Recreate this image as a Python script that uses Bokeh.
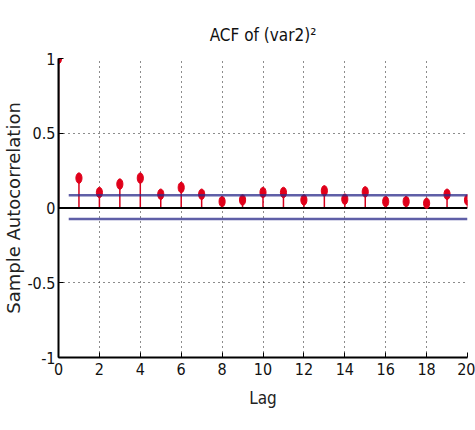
from bokeh.plotting import figure
from bokeh.models import Range1d, FixedTicker, Title
from bokeh.embed import file_html
from bokeh.resources import INLINE

# sample autocorrelation of the squared series, lags 0..20
lags = list(range(0, 21))
acf = [1.0, 0.20, 0.104, 0.16, 0.20, 0.092, 0.137, 0.092, 0.043, 0.054,
       0.104, 0.104, 0.054, 0.115, 0.059, 0.108, 0.043, 0.043, 0.032, 0.092, 0.054]
upper_bound = 0.086
lower_bound = -0.073
x_ticks = [0, 2, 4, 6, 8, 10, 12, 14, 16, 18, 20]
y_ticks = [-1, -0.5, 0, 0.5, 1]

narrow = '"Liberation Sans Narrow", "DejaVu Sans Condensed", "Roboto Condensed", "Liberation Sans", sans-serif'

p = figure(width=475, height=430, output_backend="svg", toolbar_location=None,
           x_range=Range1d(0, 20), y_range=Range1d(-1, 1),
           min_border_left=55, min_border_right=8, min_border_top=58, min_border_bottom=73,
           x_axis_label="Lag", y_axis_label="Sample Autocorrelation")
p.title = None
p.add_layout(Title(text="ACF of (var2)²", align="center", text_font=narrow,
                   text_font_size="17px", text_font_style="normal",
                   text_color="#111111", standoff=28), "above")
p.outline_line_color = None
p.background_fill_color = "white"
p.border_fill_color = "white"

for ax in (p.xaxis[0], p.yaxis[0]):
    ax.axis_line_color = "black"
    ax.axis_line_width = 2
    ax.major_tick_in = 5
    ax.major_tick_out = 0
    ax.minor_tick_line_color = None
    ax.major_tick_line_color = "black"
    ax.major_label_text_font = narrow
    ax.major_label_text_font_size = "16px"
    ax.major_label_text_color = "#111111"
    ax.axis_label_text_font_style = "normal"
    ax.axis_label_text_color = "#222222"

p.xaxis.ticker = FixedTicker(ticks=x_ticks)
p.yaxis.ticker = FixedTicker(ticks=y_ticks)
p.yaxis.major_label_overrides = {-1: "-1", -0.5: "-0.5", 0: "0", 0.5: "0.5", 1: "1"}
p.xaxis.axis_label_text_font = narrow
p.xaxis.axis_label_text_font_size = "17px"
p.xaxis.axis_label_standoff = 10
p.yaxis.axis_label_text_font = "DejaVu Sans"
p.yaxis.axis_label_text_font_size = "18px"
p.yaxis.axis_label_standoff = 0
p.yaxis.major_label_standoff = 3
p.xaxis.major_label_standoff = 5

for g in (p.xgrid[0], p.ygrid[0]):
    g.grid_line_color = "black"
    g.grid_line_dash = "1 4"
    g.grid_line_width = 1
    g.grid_line_alpha = 0.9
p.xgrid.ticker = FixedTicker(ticks=x_ticks)
p.ygrid.ticker = FixedTicker(ticks=y_ticks)

# stems
p.segment(x0=lags, y0=[0] * len(lags), x1=lags, y1=acf, line_color="#d4001c", line_width=1.5)
p.segment(x0=[0], y0=[0], x1=[0], y1=[acf[0]], line_color="black", line_width=1.5)

# zero line
p.line(x=[0, 20], y=[0, 0], line_color="black", line_width=2)

# markers
p.ellipse(x=lags, y=acf, width=0.3, height=0.07, fill_color="#e0001a", line_color="#e0001a")

# confidence bounds
p.line(x=[0.5, 20], y=[upper_bound, upper_bound], line_color="#2a2a8a", line_width=2.5, line_alpha=0.75)
p.line(x=[0.5, 20], y=[lower_bound, lower_bound], line_color="#2a2a8a", line_width=2.5, line_alpha=0.75)

open("out.html", "w").write(file_html(p, INLINE))
